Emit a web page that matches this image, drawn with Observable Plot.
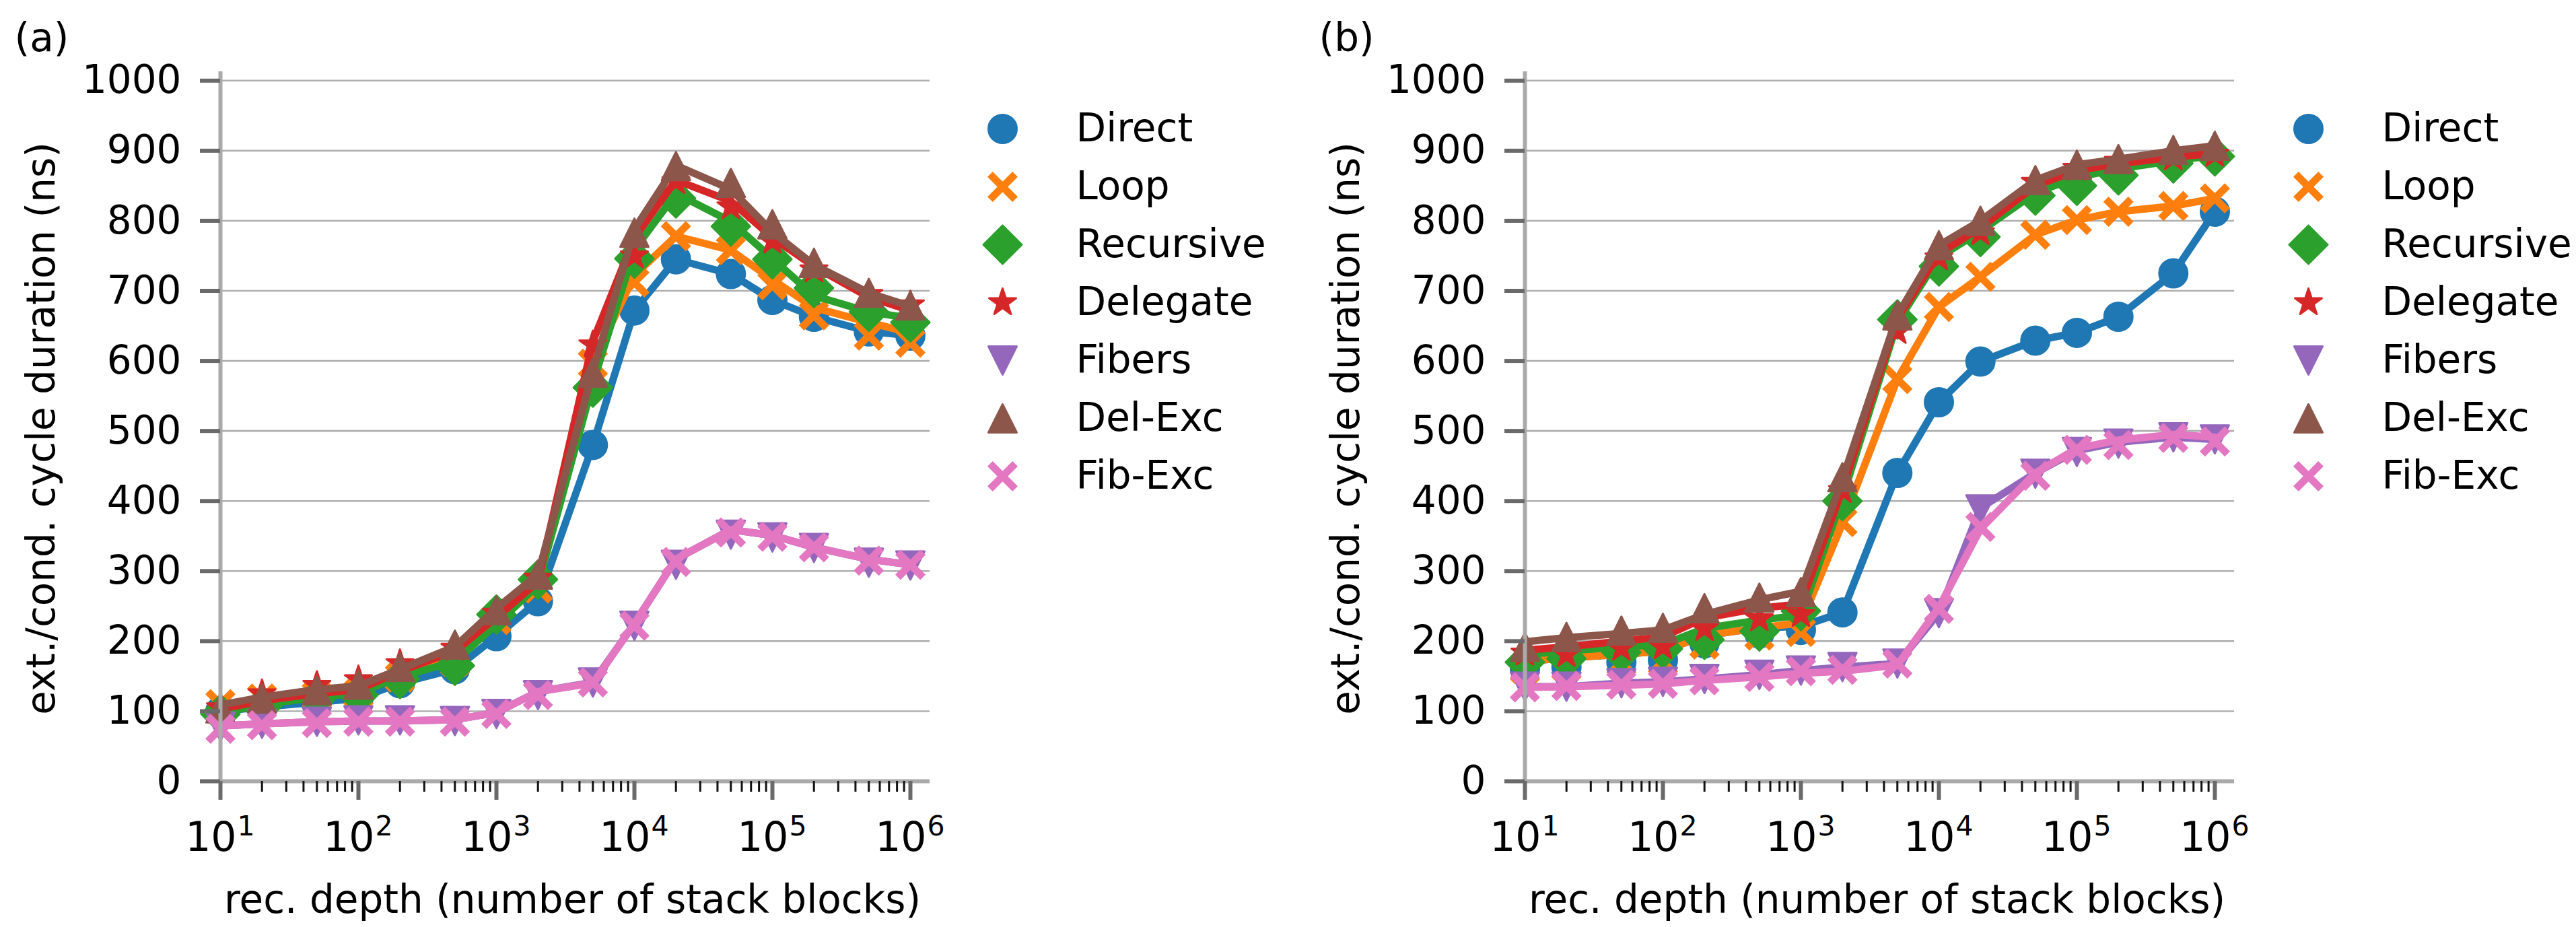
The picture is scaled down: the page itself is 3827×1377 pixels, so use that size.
<!DOCTYPE html>
<html><head><meta charset="utf-8">
<script src="https://cdn.jsdelivr.net/npm/d3@7"></script>
<script src="https://cdn.jsdelivr.net/npm/@observablehq/plot@0.6"></script>
<style>
html,body{margin:0;padding:0;background:#fff;}
#wrap{position:relative;width:3827px;height:1377px;overflow:hidden;background:#fff;font-family:"DejaVu Sans";}
#wrap > svg{position:absolute;top:0;}
</style></head><body><div id="wrap"></div>
<script>
// ---------- data ----------
const depth = [10,20,50,100,200,500,1000,2000,5000,10000,20000,50000,100000,200000,500000,1000000];
const seriesNames = ["Direct","Loop","Recursive","Delegate","Fibers","Del-Exc","Fib-Exc"];
const seriesColors = ["#1f77b4","#ff7f0e","#2ca02c","#d62728","#9467bd","#8c564b","#e377c2"];
const yTicks = [0,100,200,300,400,500,600,700,800,900,1000];
const xTicks = [10,100,1000,10000,100000,1000000];
const xTickExp = ["1","2","3","4","5","6"];
const xLabel = "rec. depth (number of stack blocks)";
const yLabel = "ext./cond. cycle duration (ns)";
const panelLabels = ["(a)","(b)"];

// panel (a): lines and markers
const aDirectLine    = [100,106,113,118,140,160,207,257,480,672,745,724,687,663,642,636];
const aDirectMark    = [100,106,113,118,140,160,207,257,480,672,745,724,687,663,642,636];
const aLoopLine      = [105,113,122,128,152,175,228,280,598,722,778,758,716,676,655,640];
const aLoopMark      = [110,118,122,125,148,170,230,275,596,712,778,758,708,665,636,626];
const aRecursiveLine = [98,109,120,126,149,171,224,280,568,759,839,799,746,693,670,661];
const aRecursiveMark = [96,107,119,123,146,165,238,288,562,746,832,792,745,704,670,655];
const aDelegateLine  = [103,115,125,131,157,186,234,285,628,776,858,828,776,735,691,672];
const aDelegateMark  = [105,125,137,145,168,190,240,290,623,750,856,820,771,730,695,680];
const aFibersLine    = [79,82,85,86,86,88,98,128,141,225,317,359,351,334,317,309];
const aFibersMark    = [78,82,85,87,87,86,96,123,141,222,309,352,348,333,312,308];
const aDelExcLine    = [109,120,131,136,160,192,247,295,585,788,879,845,784,737,697,678];
const aDelExcMark    = [104,118,130,138,163,195,244,295,583,783,878,854,795,740,697,679];
const aFibExcLine    = [79,82,85,86,86,88,98,128,140,225,317,359,351,334,317,309];
const aFibExcMark    = [75,80,83,85,85,85,96,123,141,222,313,355,349,334,315,309];

// panel (b): lines and markers
const bDirectLine    = [171,176,181,186,208,219,221,241,440,541,599,629,640,663,725,813];
const bDirectMark    = [160,163,170,173,197,211,216,241,440,541,599,629,640,663,725,813];
const bLoopLine      = [171,176,181,186,208,219,226,368,574,677,720,780,801,813,821,832];
const bLoopMark      = [160,163,170,171,195,208,213,370,574,677,720,780,801,813,821,832];
const bRecursiveLine = [181,186,192,195,218,230,237,405,655,748,785,840,862,874,886,893];
const bRecursiveMark = [170,175,184,189,202,214,243,400,659,735,777,836,850,865,882,892];
const bDelegateLine  = [187,192,200,206,233,247,253,417,660,753,790,850,872,881,891,896];
const bDelegateMark  = [183,181,190,192,218,232,238,415,642,747,783,855,875,885,890,895];
const bFibersLine    = [135,135,140,142,146,152,158,163,168,240,390,440,472,484,491,488];
const bFibersMark    = [135,135,140,142,146,152,158,163,168,240,388,439,470,482,491,488];
const bDelExcLine    = [199,205,211,216,238,259,271,431,665,765,800,858,880,888,900,907];
const bDelExcMark    = [192,206,215,219,247,262,270,434,665,765,800,858,880,888,901,907];
const bFibExcLine    = [134,135,137,139,144,149,154,157,166,248,360,440,475,487,495,491];
const bFibExcMark    = [134,136,138,139,144,149,157,159,168,246,363,436,473,480,490,485];

const panelA = [[aDirectLine,aDirectMark],[aLoopLine,aLoopMark],[aRecursiveLine,aRecursiveMark],[aDelegateLine,aDelegateMark],[aFibersLine,aFibersMark],[aDelExcLine,aDelExcMark],[aFibExcLine,aFibExcMark]];
const panelB = [[bDirectLine,bDirectMark],[bLoopLine,bLoopMark],[bRecursiveLine,bRecursiveMark],[bDelegateLine,bDelegateMark],[bFibersLine,bFibersMark],[bDelExcLine,bDelExcMark],[bFibExcLine,bFibExcMark]];

// ---------- marker shapes (matplotlib-like) ----------
function rad(size){ return Math.sqrt(size/Math.PI); }
const symXline = {draw(ctx,size){const h=rad(size)*0.885;
  ctx.moveTo(-h,-h); ctx.lineTo(h,h); ctx.moveTo(h,-h); ctx.lineTo(-h,h);}};
const symD = {draw(ctx,size){const h=rad(size)*1.36; ctx.moveTo(0,-h);ctx.lineTo(h,0);ctx.lineTo(0,h);ctx.lineTo(-h,0);ctx.closePath();}};
const symStar = {draw(ctx,size){const R=rad(size), r=R*0.381966;
  for(let i=0;i<10;i++){const a=-Math.PI/2+i*Math.PI/5, rr=i%2?r:R; const x=rr*Math.cos(a), y=rr*Math.sin(a); i?ctx.lineTo(x,y):ctx.moveTo(x,y);} ctx.closePath();}};
const symTriDown = {draw(ctx,size){const h=rad(size); ctx.moveTo(-h,-h);ctx.lineTo(h,-h);ctx.lineTo(0,h);ctx.closePath();}};
const symTriUp = {draw(ctx,size){const h=rad(size); ctx.moveTo(0,-h);ctx.lineTo(h,h);ctx.lineTo(-h,h);ctx.closePath();}};
const seriesSymbols = [d3.symbolCircle, symXline, symD, symStar, symTriDown, symTriUp, symXline];
const seriesStroked = [false, true, false, false, false, false, true];

function markStyle(i){
  return seriesStroked[i]
    ? {r: 21, symbol: seriesSymbols[i], fill: "none", stroke: seriesColors[i], strokeWidth: 11, strokeLinecap: "butt"}
    : {r: 21, symbol: seriesSymbols[i], fill: seriesColors[i], stroke: seriesColors[i], strokeWidth: 3, strokeLinejoin: "round"};
}

// ---------- layout ----------
const FONT = "DejaVu Sans";
const X0 = 327, X1 = 1381, YTOP = 106, YBOT = 1160;
const xMax = Math.pow(10, 1 + 5*(X1-X0)/(1352-X0));
const yMax = 1000*(YBOT-YTOP)/(YBOT-119.3);
const PW = 1420;

function panel(series, label){
  const marks = [];
  marks.push(Plot.ruleY(yTicks.filter(d=>d>0), {stroke:"#b0b0b0", strokeWidth:2.6}));
  series.forEach(([ln, mk], i) => {
    const rows = depth.map((x,j)=>({x, yl: ln[j], ym: mk[j]}));
    marks.push(Plot.line(rows, {x:"x", y:"yl", stroke: seriesColors[i], strokeWidth: 11, strokeLinejoin:"round"}));
    marks.push(Plot.dot(rows, {x:"x", y:"ym", ...markStyle(i)}));
  });
  // spines
  marks.push(Plot.ruleX([10], {stroke:"#aaaaaa", strokeWidth:6}));
  marks.push(Plot.ruleY([0], {stroke:"#aaaaaa", strokeWidth:6}));
  // axes
  const minor = [];
  for (let e=1; e<6; e++) for (let k=2; k<10; k++) minor.push(k*Math.pow(10,e));
  marks.push(Plot.axisX(minor, {tickSize: 16, tickFormat: () => "", stroke:"#111", strokeWidth: 3, label: null}));
  marks.push(Plot.axisX(xTicks, {tickSize: 28, tickFormat: () => "", stroke:"#6a6a6a", strokeWidth: 6, label: null}));
  marks.push(Plot.axisY(yTicks, {tickSize: 30, tickPadding: 28, fontSize: 58, stroke:"#6a6a6a", strokeWidth: 6, tickFormat: d => String(d), label: null}));
  // x tick labels 10^n
  marks.push(Plot.text(xTicks, {x: d=>d, text: () => "10", frameAnchor:"bottom", dy: 103, dx: 24, lineAnchor:"bottom", textAnchor:"end", fontSize: 60, fill:"#000"}));
  marks.push(Plot.text(xTicks, {x: d=>d, text: (d,i) => xTickExp[i], frameAnchor:"bottom", dy: 80, dx: 25, lineAnchor:"bottom", textAnchor:"start", fontSize: 41, fill:"#000"}));
  // axis labels
  marks.push(Plot.text([xLabel], {text: d=>d, frameAnchor:"bottom", dy: 195, dx: -4, lineAnchor:"bottom", textAnchor:"middle", fontSize: 58, fill:"#000"}));
  marks.push(Plot.text([yLabel], {text: d=>d, frameAnchor:"left", dx: -247, dy: 3, rotate: -90, lineAnchor:"bottom", textAnchor:"middle", fontSize: 58, fill:"#000"}));
  marks.push(Plot.text([label], {text: d=>d, frameAnchor:"top-left", dx: -306, dy: -31, lineAnchor:"bottom", textAnchor:"start", fontSize: 58, fill:"#000"}));
  return Plot.plot({
    width: PW, height: 1377,
    marginLeft: X0, marginRight: PW - X1, marginTop: YTOP, marginBottom: 1377 - YBOT,
    x: {type:"log", domain:[10, xMax]},
    y: {domain:[0, yMax]},
    style: {fontFamily: FONT, background: "transparent", maxWidth: "none", overflow: "visible", color: "#000"},
    marks
  });
}

function legend(){
  const marks = [];
  seriesNames.forEach((n,i) => {
    marks.push(Plot.dot([n], {x: 0, y: d=>d, ...markStyle(i)}));
    marks.push(Plot.text([n], {x: 0, y: d=>d, text: d=>d, dx: 109, textAnchor:"start", lineAnchor:"middle", fontSize: 58, fill:"#000"}));
  });
  return Plot.plot({
    width: 440, height: 800, margin: 0,
    x: {domain:[0,1], range:[40,420], axis: null},
    y: {type:"point", domain: seriesNames, range:[191, 191+6*86], padding: 0, axis: null},
    style: {fontFamily: FONT, background: "transparent", maxWidth: "none", overflow: "visible"},
    marks
  });
}

const wrap = document.getElementById("wrap");
const pa = panel(panelA, panelLabels[0]); pa.style.left = "0px"; wrap.appendChild(pa);
const pb = panel(panelB, panelLabels[1]); pb.style.left = "1938px"; wrap.appendChild(pb);
const la = legend(); la.style.left = "1449px"; wrap.appendChild(la);
const lb = legend(); lb.style.left = "3389px"; wrap.appendChild(lb);
</script></body></html>
